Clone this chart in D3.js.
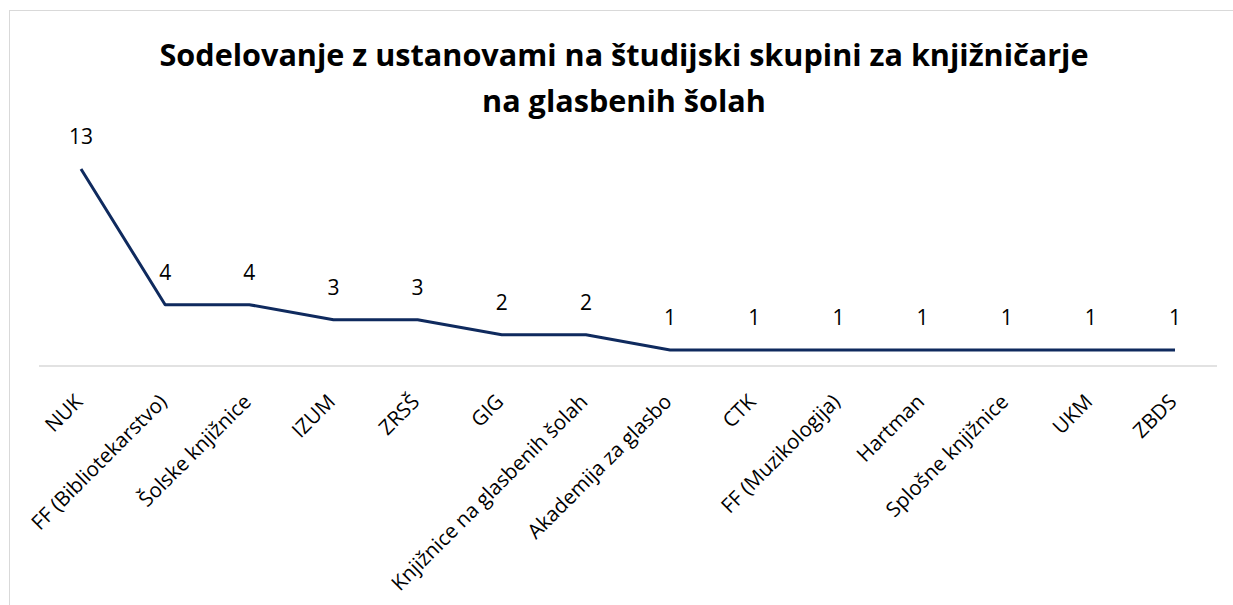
<!DOCTYPE html>
<html><head><meta charset="utf-8">
<script src="https://cdn.jsdelivr.net/npm/d3@7"></script>
<style>body{margin:0;background:#fff}svg{display:block}</style>
</head><body>
<svg id="c" width="1233" height="605"></svg>
<script>
const categories = ["NUK","FF (Bibliotekarstvo)","Šolske knjižnice","IZUM","ZRSŠ","GIG","Knjižnice na glasbenih šolah","Akademija za glasbo","CTK","FF (Muzikologija)","Hartman","Splošne knjižnice","UKM","ZBDS"];
const values = [13,4,4,3,3,2,2,1,1,1,1,1,1,1];
const titleLines = ["Sodelovanje z ustanovami na študijski skupini za knjižničarje","na glasbenih šolah"];

const svg = d3.select("#c");
const font = "'Open Sans', sans-serif";
svg.append("rect").attr("x",9.5).attr("y",10.5).attr("width",1240).attr("height",620)
  .attr("fill","#fff").attr("stroke","#d9d9d9");

const x = d3.scalePoint().domain(categories).range([81,1175]);
const y = d3.scaleLinear().domain([0,13]).range([365,169]);

svg.append("line").attr("x1",39).attr("x2",1217).attr("y1",366).attr("y2",366)
  .attr("stroke","#d9d9d9").attr("stroke-width",1.5);

svg.selectAll(".t").data(titleLines).enter().append("text")
  .attr("x",624).attr("y",(d,i)=>66+i*46).attr("text-anchor","middle")
  .attr("font-family",font).attr("font-weight","bold").attr("font-size",30.6).attr("fill","#000").text(d=>d);

const line = d3.line().x((d,i)=>x(categories[i])).y(d=>y(d));
svg.append("path").datum(values).attr("d",line).attr("fill","none")
  .attr("stroke","#0f2a5e").attr("stroke-width",3).attr("stroke-linejoin","round");

svg.selectAll(".v").data(values).enter().append("text")
  .attr("x",(d,i)=>x(categories[i])).attr("y",d=>y(d)-25).attr("text-anchor","middle")
  .attr("font-family",font).attr("font-size",21).attr("fill","#000").text(d=>d);

svg.selectAll(".xl").data(categories).enter().append("text")
  .attr("transform",d=>`translate(${x(d)+3},${403}) rotate(-45)`)
  .attr("text-anchor","end")
  .attr("font-family",font).attr("font-size",20.5).attr("fill","#000").text(d=>d);
</script>
</body></html>
